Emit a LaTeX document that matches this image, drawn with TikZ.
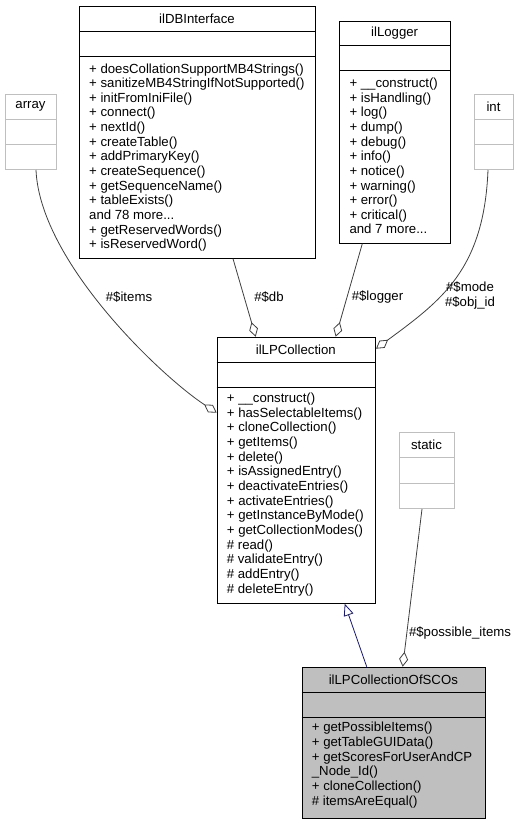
\documentclass[tikz,border=0pt]{standalone}
\usepackage{fontspec}
\setmainfont{Liberation Sans}
\usetikzlibrary{arrows.meta,calc}
\definecolor{edgegray}{HTML}{404040}
\definecolor{boxgray}{HTML}{BFBFBF}
\definecolor{inhblue}{HTML}{191970}
\newcommand{\umlcls}[9]{%
  \node[#2, anchor=north west, minimum width={#4-#3}, minimum height={#8-#5}] (#1) at (#3,#5) {};
  \draw[#2, fill=none] (#3,#6) -- (#4,#6);
  \draw[#2, fill=none] (#3,#7) -- (#4,#7);
  \node (#1t) at ({(#3+#4)/2},{(#5+#6)/2}) {#9};
}
\begin{document}
\begin{tikzpicture}[x=1pt,y=-1pt,
  every node/.style={font=\fontsize{13.2}{14.65}\selectfont, inner sep=0pt},
  classbox/.style={draw=black, line width=1pt, fill=white},
  curbox/.style={draw=black, line width=1pt, fill=boxgray},
  extbox/.style={draw=boxgray, line width=1pt, fill=white},
  methods/.style={anchor=west, align=left},
  agg/.style={draw=edgegray, line width=0.8pt, -{Diamond[open, length=15pt, width=9pt, line width=0.8pt]}},
  inh/.style={draw=inhblue, line width=0.8pt, -{Triangle[open, length=12pt, width=10pt, line width=0.8pt]}},
  elabel/.style={align=center}]
\useasboundingbox[fill=white] (0,0) rectangle (518,823);

% ilDBInterface
\umlcls{dbi}{classbox}{79}{315}{5.7}{31}{56.7}{257.7}{ilDBInterface}
\node[methods] (dbim) at (89,157.5) {+ doesCollationSupportMB4Strings()\\
+ sanitizeMB4StringIfNotSupported()\\
+ initFromIniFile()\\
+ connect()\\
+ nextId()\\
+ createTable()\\
+ addPrimaryKey()\\
+ createSequence()\\
+ getSequenceName()\\
+ tableExists()\\
and 78 more...\\
+ getReservedWords()\\
+ isReservedWord()};

% ilLogger
\umlcls{log}{classbox}{339.3}{450}{20.7}{45.7}{70.7}{242.7}{ilLogger}
\node[methods] (logm) at (349.3,156) {+ \_\_construct()\\
+ isHandling()\\
+ log()\\
+ dump()\\
+ debug()\\
+ info()\\
+ notice()\\
+ warning()\\
+ error()\\
+ critical()\\
and 7 more...};

% array
\umlcls{arr}{extbox}{5}{56}{94}{119}{144}{169}{array}
% int
\umlcls{int}{extbox}{474}{513}{94}{119}{144}{169}{int}
% static
\umlcls{sta}{extbox}{399}{454}{432}{457}{483}{508}{static}

% ilLPCollection
\umlcls{coll}{classbox}{216.7}{375}{336.7}{362.3}{387.3}{602.7}{ilLPCollection}
\node[methods] (collm) at (226.7,494.5) {+ \_\_construct()\\
+ hasSelectableItems()\\
+ cloneCollection()\\
+ getItems()\\
+ delete()\\
+ isAssignedEntry()\\
+ deactivateEntries()\\
+ activateEntries()\\
+ getInstanceByMode()\\
+ getCollectionModes()\\
\# read()\\
\# validateEntry()\\
\# addEntry()\\
\# deleteEntry()};

% ilLPCollectionOfSCOs
\umlcls{scos}{curbox}{301.7}{485}{666.7}{692.7}{717.3}{818}{ilLPCollectionOfSCOs}
\node[methods] (scosm) at (311.7,765) {+ getPossibleItems()\\
+ getTableGUIData()\\
+ getScoresForUserAndCP\\
\_Node\_Id()\\
+ cloneCollection()\\
\# itemsAreEqual()};

% connectors
\draw[agg] ($(arr.south west)+(31,0)$) .. controls ($(arr.south west)+(35,92)$) and ($(coll.north west)+(-55,40)$) .. ($(coll.north west)+(0,76)$);
\draw[agg] ($(dbi.south west)+(154,0)$) -- ($(coll.north west)+(39,0)$);
\draw[agg] ($(log.south west)+(23,0)$) -- ($(coll.north west)+(119,0)$);
\draw[agg] ($(int.south west)+(14,0)$) .. controls ($(int.south west)+(10,100)$) and ($(coll.north east)+(65,-36)$) .. ($(coll.north east)+(0,12)$);
\draw[agg] ($(sta.south west)+(23,0)$) -- ($(scos.north west)+(101,0)$);
\draw[inh] ($(scos.north west)+(65,0)$) -- ($(coll.south west)+(128,0)$);

% labels
\node[elabel] (lItems) at (129,297) {\#\$items};
\node[elabel] (lDb) at (269,297) {\#\$db};
\node[elabel] (lLog) at (377.5,297) {\#\$logger};
\node[elabel] (lMode) at (470,295.5) {\#\$mode\\\#\$obj\_id};
\node[elabel] (lPoss) at (460,633) {\#\$possible\_items};
\end{tikzpicture}
\end{document}
